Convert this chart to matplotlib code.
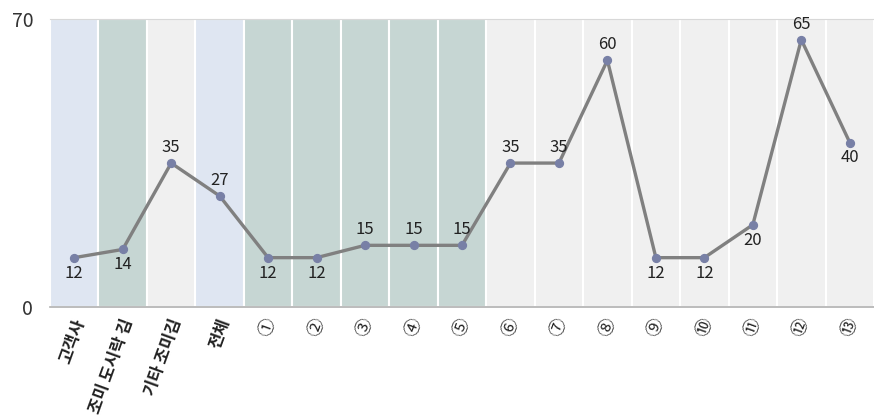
import matplotlib
matplotlib.use("Agg")
import matplotlib.pyplot as plt

plt.rcParams["font.family"] = ["Noto Sans CJK KR", "DejaVu Sans"]

categories = ["고객사", "조미 도시락 김", "기타 조미김", "전체",
              "①", "②", "③", "④", "⑤", "⑥", "⑦", "⑧", "⑨", "⑩", "⑪", "⑫", "⑬"]
values = [12, 14, 35, 27, 12, 12, 15, 15, 15, 35, 35, 60, 12, 12, 20, 65, 40]
groups = ["blue", "green", "gray", "blue", "green", "green", "green", "green", "green",
          "gray", "gray", "gray", "gray", "gray", "gray", "gray", "gray"]
label_above = [False, False, True, True, False, False, True, True, True,
               True, True, True, False, False, False, True, False]

group_colors = {"blue": "#dfe6f2", "green": "#c6d6d3", "gray": "#f0f0f0"}

fig = plt.figure(figsize=(8.74, 4.16), dpi=100)
ax = fig.add_axes([0.0572, 0.262, 0.9428, 0.692])

x = list(range(len(categories)))
ax.bar(x, [70] * len(x), width=1.0, color=[group_colors[g] for g in groups],
       edgecolor="white", linewidth=1.5, zorder=1)

ax.plot(x, values, color="#808080", linewidth=2.4, zorder=3)
ax.scatter(x, values, s=32, color="#7880a6", zorder=4)

for xi, v, up in zip(x, values, label_above):
    if up:
        ax.annotate(str(v), (xi, v), xytext=(0, 5), textcoords="offset points",
                    ha="center", va="bottom", fontsize=12, color="#222222", zorder=5)
    else:
        ax.annotate(str(v), (xi, v), xytext=(0, -5), textcoords="offset points",
                    ha="center", va="top", fontsize=12, color="#222222", zorder=5)

ax.set_xlim(-0.5, len(x) - 0.5)
ax.set_ylim(0, 70)
ax.set_yticks([0, 70])
ax.set_yticklabels(["0", "70"], fontsize=14, color="#333333")
ax.tick_params(axis="y", length=0, pad=12)

ax.set_xticks(x)
ax.set_xticklabels([])
ax.tick_params(axis="x", length=0)
for xi, lab in zip(x, categories):
    if xi < 4:
        ax.text(xi + 0.12, -3, lab, rotation=70, ha="right", va="center",
                rotation_mode="anchor", fontsize=12, fontweight="bold",
                color="#222222", clip_on=False)
    else:
        ax.text(xi, -5, lab, rotation=70, ha="center", va="center",
                rotation_mode="anchor", fontsize=13, color="#222222", clip_on=False)

for s in ["left", "right"]:
    ax.spines[s].set_visible(False)
ax.spines["top"].set_color("#d8d8d8")
ax.spines["bottom"].set_color("#b0b0b0")
ax.spines["bottom"].set_linewidth(1.2)

fig.savefig("out.png", dpi=100)
